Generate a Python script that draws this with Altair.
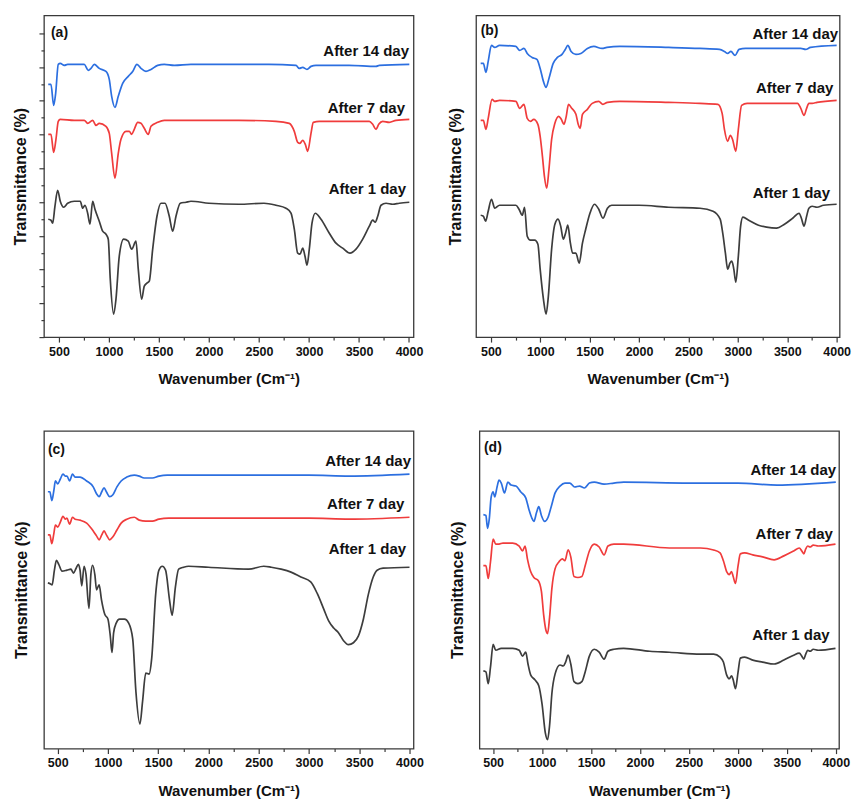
import altair as alt
import pandas as pd

SERIES = ["After 14 day", "After 7 day", "After 1 day"]
COLORS = ["#2c6fe0", "#f03c3c", "#3d3d3d"]

# ---- panel (a) ----
A14 = [(393,253),(420,253),(447,232),(467,244),(493,273),(513,274),(553,272),(587,273),(753,273),(793,267),(820,269),(853,273),(903,269),(970,266),(1003,258),(1027,241),(1060,230),(1093,241),(1137,254),(1193,261),(1237,266),(1280,273),(1320,269),(1370,266),(1420,268),(1487,272),(1553,273),(1653,272),(1820,273),(2200,273),(2600,273),(2870,272),(2903,269),(2937,270),(2980,268),(3020,271),(3070,272),(3400,272),(3670,271),(3703,272),(4003,273)]
A7 = [(393,203),(420,203),(447,185),(470,198),(493,216),(513,218),(653,217),(753,217),(787,214),(837,217),(870,212),(903,214),(970,211),(1003,204),(1027,184),(1060,159),(1093,184),(1120,198),(1170,206),(1203,206),(1227,203),(1253,208),(1287,215),(1320,214),(1353,209),(1393,203),(1420,211),(1487,215),(1553,217),(1820,217),(2300,217),(2670,216),(2803,214),(2853,206),(2887,195),(2910,194),(2937,197),(2963,193),(2987,186),(3020,204),(3043,215),(3103,216),(3603,216),(3637,213),(3670,208),(3697,213),(3737,216),(3803,215),(3870,217),(4003,218)]
A1 = [(393,118),(420,117),(437,114),(460,131),(487,147),(513,136),(547,130),(587,134),(653,136),(713,136),(737,129),(760,132),(787,124),(810,113),(837,136),(860,128),(903,116),(937,106),(970,103),(993,98),(1013,58),(1047,23),(1070,38),(1103,81),(1147,98),(1193,96),(1227,88),(1270,96),(1293,68),(1327,38),(1353,51),(1380,54),(1403,56),(1437,88),(1480,121),(1520,134),(1560,134),(1603,121),(1637,106),(1670,121),(1713,134),(1770,135),(1820,136),(2000,134),(2300,133),(2550,134),(2670,132),(2770,129),(2820,124),(2853,108),(2887,84),(2910,83),(2937,89),(2960,81),(2980,72),(3003,88),(3030,114),(3063,124),(3120,118),(3203,104),(3270,94),(3337,89),(3410,84),(3470,88),(3537,98),(3603,111),(3637,117),(3663,115),(3687,121),(3720,132),(3770,134),(3837,133),(3903,134),(4003,135)]
A_LABELS = [(4000,286),(3960,229),(3970,148)]
A_TAG = (420,304,"(a)")

# ---- panel (b) ----
B14 = [(397,274),(424,274),(450,265),(473,276),(506,292),(539,290),(588,292),(753,291),(792,287),(835,289),(868,284),(917,280),(966,278),(999,269),(1032,256),(1059,250),(1088,259),(1131,274),(1174,280),(1220,283),(1253,288),(1279,292),(1312,286),(1361,283),(1411,284),(1477,289),(1542,291),(1625,289),(1674,290),(1806,291),(2300,290),(2617,289),(2814,288),(2864,286),(2897,284),(2930,286),(2972,282),(3012,288),(3078,289),(3637,289),(3686,288),(3735,290),(4000,292)]
B7 = [(397,217),(424,217),(450,208),(473,219),(512,238),(539,236),(588,237),(753,236),(792,229),(835,233),(868,219),(901,216),(934,218),(976,213),(999,201),(1022,181),(1042,161),(1065,149),(1088,168),(1115,198),(1148,214),(1187,221),(1213,218),(1240,213),(1263,221),(1286,233),(1319,229),(1361,223),(1384,213),(1404,209),(1427,223),(1477,228),(1526,234),(1592,236),(1634,233),(1680,235),(1806,236),(2300,235),(2617,234),(2798,233),(2841,224),(2864,208),(2897,196),(2923,202),(2946,198),(2979,186),(3005,208),(3038,232),(3094,234),(3604,234),(3637,229),(3670,222),(3696,229),(3719,234),(3752,234),(3801,235),(4000,237)]
B1 = [(397,122),(424,121),(447,116),(473,126),(506,138),(539,129),(588,132),(753,132),(785,128),(818,122),(841,130),(868,101),(901,97),(944,97),(976,93),(999,68),(1032,38),(1059,23),(1082,41),(1115,88),(1148,113),(1180,118),(1207,111),(1233,98),(1256,104),(1279,112),(1305,94),(1328,84),(1361,84),(1394,74),(1427,94),(1460,108),(1503,124),(1549,133),(1592,128),(1634,119),(1680,129),(1723,132),(1806,132),(2000,132),(2300,130),(2617,129),(2749,126),(2821,118),(2847,104),(2874,84),(2897,68),(2920,74),(2939,76),(2959,68),(2979,55),(3005,81),(3028,111),(3051,120),(3110,117),(3209,112),(3291,110),(3390,109),(3472,113),(3555,119),(3620,124),(3643,119),(3670,111),(3696,121),(3719,129),(3752,131),(3801,130),(3867,132),(4000,133)]
B_LABELS = [(4015,303),(3966,249),(3933,144)]
B_TAG = (397,306,"(b)")

# ---- panel (c) ----
C14 = [(402,262),(422,262),(441,253),(461,263),(477,273),(500,270),(526,275),(552,280),(575,278),(592,278),(618,273),(647,280),(673,277),(722,277),(788,273),(853,267),(886,260),(912,257),(938,262),(961,266),(984,262),(1017,257),(1049,259),(1089,267),(1131,273),(1187,277),(1262,279),(1311,278),(1360,276),(1409,276),(1442,276),(1507,278),(1589,279),(1802,279),(2500,279),(3000,279),(3400,278),(4000,280)]
C7 = [(402,218),(422,218),(441,209),(461,219),(477,228),(500,226),(526,231),(552,237),(575,234),(592,235),(618,229),(647,236),(673,234),(722,233),(788,230),(853,222),(886,217),(912,213),(938,218),(961,222),(984,218),(1017,213),(1049,216),(1089,223),(1131,230),(1187,234),(1262,236),(1311,233),(1376,232),(1442,232),(1507,234),(1605,235),(1802,235),(2500,235),(3000,235),(3400,234),(4000,236)]
C1 = [(402,169),(428,168),(444,167),(467,182),(487,192),(510,188),(543,181),(592,182),(631,183),(657,179),(683,184),(706,188),(722,182),(739,166),(762,186),(781,178),(811,143),(830,178),(847,187),(870,177),(886,162),(912,167),(935,152),(968,137),(1000,132),(1023,115),(1040,98),(1056,118),(1082,128),(1115,132),(1164,132),(1206,128),(1246,112),(1278,58),(1318,25),(1344,48),(1376,77),(1409,76),(1435,92),(1475,158),(1507,182),(1540,186),(1573,182),(1612,152),(1638,136),(1671,165),(1703,183),(1752,185),(1802,186),(2000,185),(2400,183),(2550,186),(2625,185),(2723,183),(2821,180),(2919,175),(3017,170),(3083,158),(3148,142),(3197,130),(3246,123),(3295,118),(3344,110),(3393,106),(3442,108),(3492,115),(3541,132),(3590,157),(3639,175),(3678,182),(3737,184),(4000,185)]
C_LABELS = [(4015,293),(3949,249),(3966,204)]
C_TAG = (402,305,"(c)")

# ---- panel (d) ----
D14 = [(400,238),(426,237),(443,224),(460,233),(480,256),(500,261),(516,256),(540,266),(560,273),(583,270),(616,260),(650,271),(683,268),(733,267),(783,261),(833,255),(866,243),(893,235),(916,231),(943,240),(966,246),(993,237),(1026,231),(1060,235),(1093,246),(1133,260),(1183,267),(1233,270),(1283,270),(1333,266),(1383,267),(1433,265),(1483,270),(1533,271),(1633,269),(1733,270),(1833,271),(2500,270),(3000,270),(3400,268),(4000,271)]
D7 = [(400,186),(426,186),(450,173),(473,190),(500,213),(526,208),(560,208),(600,209),(700,209),(766,206),(800,201),(826,206),(850,193),(883,180),(916,174),(960,171),(993,160),(1016,136),(1040,120),(1056,117),(1076,133),(1100,163),(1133,183),(1173,190),(1206,193),(1233,191),(1266,202),(1293,195),(1326,175),(1366,174),(1406,175),(1440,186),(1483,201),(1533,208),(1583,205),(1633,197),(1673,206),(1733,208),(1833,208),(2300,204),(2618,204),(2752,202),(2818,199),(2852,191),(2885,180),(2912,177),(2935,180),(2952,175),(2975,168),(3002,186),(3025,198),(3069,199),(3152,197),(3253,195),(3370,192),(3470,196),(3570,201),(3627,204),(3653,201),(3673,198),(3693,203),(3713,206),(3737,205),(3770,207),(3820,206),(3997,208)]
D1 = [(400,79),(426,78),(450,66),(473,83),(500,106),(526,100),(583,102),(700,102),(766,100),(800,94),(833,98),(856,86),(883,75),(926,70),(966,64),(1000,45),(1033,16),(1056,9),(1076,23),(1100,56),(1133,76),(1183,85),(1216,84),(1240,88),(1266,95),(1293,86),(1326,68),(1366,66),(1406,68),(1440,78),(1483,94),(1533,101),(1583,98),(1633,91),(1673,99),(1733,101),(1833,102),(2100,99),(2300,98),(2618,96),(2752,96),(2818,93),(2852,88),(2885,75),(2912,71),(2935,74),(2952,70),(2975,61),(3002,78),(3025,92),(3069,93),(3152,90),(3253,88),(3370,86),(3470,90),(3570,95),(3627,97),(3653,94),(3673,91),(3693,96),(3713,100),(3737,99),(3770,101),(3820,100),(3997,102)]
D_LABELS = [(4004,283),(3971,218),(3937,115)]
D_TAG = (406,306,"(d)")

X_TICKS = list(range(500, 4001, 250))
Y_MAJOR = [round(33.8 * k, 1) for k in range(10)]
Y_MINOR = [round(16.9 + 33.8 * k, 1) for k in range(9)]

FONT = "Liberation Sans"


def panel(spectra, labels, tag, xdom, ydom, W, H, title_dx, yticks=False):
    rows = []
    for name, pts in zip(SERIES, spectra):
        for w, t in pts:
            rows.append({"w": w, "t": t, "s": name})
    df = pd.DataFrame(rows)
    lab = pd.DataFrame([{"w": w, "t": t, "s": n} for (w, t), n in zip(labels, SERIES)])
    tg = pd.DataFrame([{"w": tag[0], "t": tag[1], "s": tag[2]}])

    xaxis = alt.Axis(
        values=X_TICKS, format="d", labelFlush=False,
        labelExpr="datum.value % 500 === 0 ? datum.label : ''",
        tickSize={"condition": {"test": "datum.value % 500 === 0", "value": 5}, "value": 3},
        title="Wavenumber (Cm⁻¹)", titlePadding=14, labelPadding=3,
    )
    ytitle = dict(title="Transmittance (%)", titleX=-title_dx, titleY=H / 2,
                  titleAngle=270, titleAlign="center", titleBaseline="middle",
                  minExtent=0, labels=False)
    if yticks:
        yaxis = alt.Axis(
            values=sorted(Y_MAJOR + Y_MINOR), ticks=True,
            tickSize={"condition": {"test": "round(datum.value*10) % 338 === 0", "value": 5}, "value": 3},
            **ytitle,
        )
    else:
        yaxis = alt.Axis(ticks=False, **ytitle)

    X = alt.X("w:Q", scale=alt.Scale(domain=xdom, nice=False, zero=False), axis=xaxis)
    Y = alt.Y("t:Q", scale=alt.Scale(domain=[0, ydom], nice=False, zero=False), axis=yaxis)

    lines = alt.Chart(df).mark_line(strokeWidth=1.7, interpolate="monotone").encode(
        x=X, y=Y,
        color=alt.Color("s:N", scale=alt.Scale(domain=SERIES, range=COLORS), legend=None),
        detail="s:N",
    )
    txt = alt.Chart(lab).mark_text(align="right", baseline="middle", font=FONT,
                                   fontSize=15, fontWeight="bold", color="#111").encode(
        x=X, y=Y, text="s:N")
    tagm = alt.Chart(tg).mark_text(align="left", baseline="middle", font=FONT,
                                   fontSize=14, fontWeight="bold", color="#111").encode(
        x=X, y=Y, text="s:N")
    return alt.layer(lines, txt, tagm).properties(width=W, height=H)


pa = panel([A14, A7, A1], A_LABELS, A_TAG, [350, 4045], 322, 370, 322, 23, yticks=True)
pb = panel([B14, B7, B1], B_LABELS, B_TAG, [350, 4030], 322, 364, 322, 21)
pc = panel([C14, C7, C1], C_LABELS, C_TAG, [363, 4040], 324, 370, 318, 22)
pd_ = panel([D14, D7, D1], D_LABELS, D_TAG, [360, 4033], 323, 360, 318, 22)

row1 = alt.hconcat(pa, pb, spacing=21.6)
row2 = alt.hconcat(pc, pd_, spacing=24)
chart = alt.vconcat(row1, row2, spacing=42).properties(
    padding={"left": 4, "top": 6, "right": 0, "bottom": 0}
).configure_view(stroke="#3a3a3a", strokeWidth=1.3).configure_axis(
    domain=False, grid=False, tickColor="#3a3a3a", tickWidth=1.2,
    labelFont=FONT, labelFontSize=12.5, labelFontWeight="bold", labelColor="#111",
    titleFont=FONT, titleFontSize=15, titleFontWeight="bold", titleColor="#111",
).configure_axisY(titleFontSize=16)

chart.save("out.html", embed_options={"renderer": "svg", "actions": False})
